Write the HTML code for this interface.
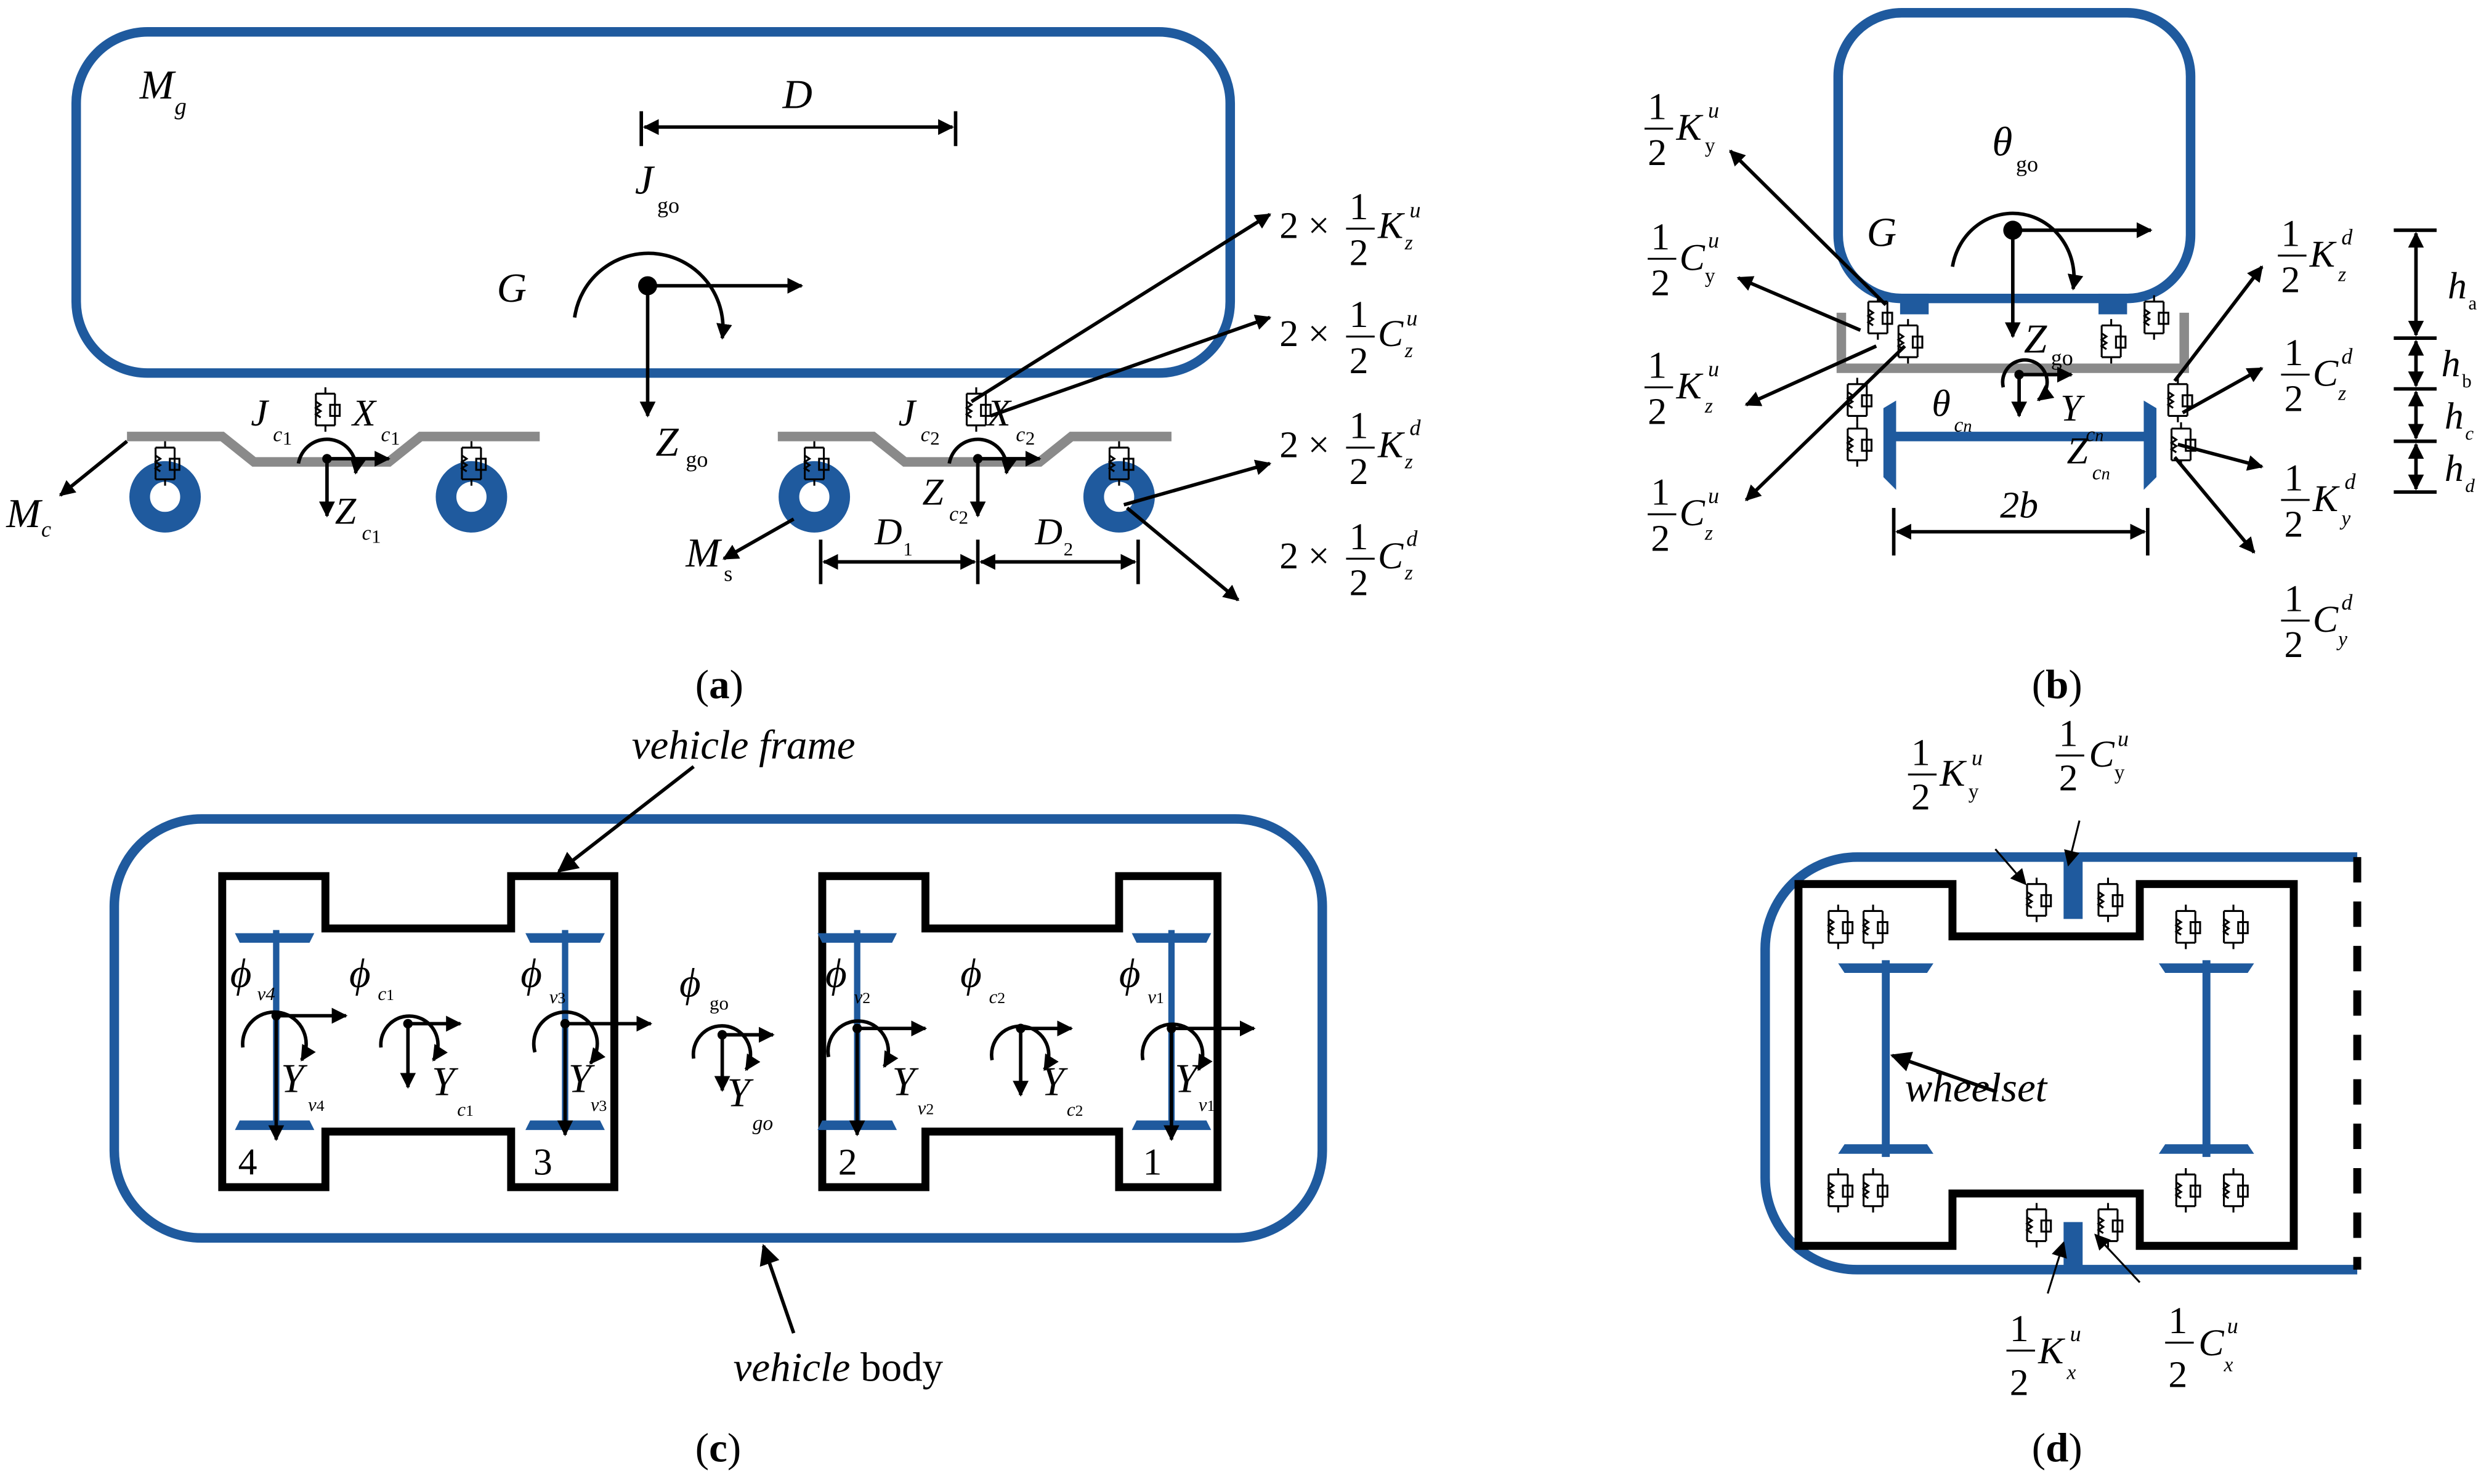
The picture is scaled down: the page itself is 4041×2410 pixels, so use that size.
<!DOCTYPE html>
<html><head><meta charset="utf-8"><style>
html,body{margin:0;padding:0;background:#fff}
svg{display:block}
text{font-family:"Liberation Serif",serif;fill:#000}
.i{font-style:italic}
.b{fill:none;stroke:#1f5a9e;stroke-width:6}
.k{fill:none;stroke:#000;stroke-width:2.2}
.kf{fill:none;stroke:#000;stroke-width:5}
.g{fill:none;stroke:#8a8a8a;stroke-width:6}
.s{fill:none;stroke:#000;stroke-width:1.2}
</style></head><body>
<svg width="4041" height="2410" viewBox="0 0 1568 935" xmlns="http://www.w3.org/2000/svg">
<defs>
<marker id="a" viewBox="0 0 10 10" refX="9" refY="5" markerWidth="10" markerHeight="10" markerUnits="userSpaceOnUse" orient="auto"><path d="M0,0 L10,5 L0,10 z" fill="#000"/></marker>
<marker id="a2" viewBox="0 0 10 10" refX="9" refY="5" markerWidth="13" markerHeight="13" markerUnits="userSpaceOnUse" orient="auto"><path d="M0,0 L10,5 L0,10 z" fill="#000"/></marker>
<marker id="ar" viewBox="0 0 10 10" refX="1" refY="5" markerWidth="10" markerHeight="10" markerUnits="userSpaceOnUse" orient="auto"><path d="M10,0 L0,5 L10,10 z" fill="#000"/></marker>
<g id="sd"><path class="s" d="M-6,-10 h12 M0,-14 v4 M-6,-10 v20 M6,-10 v20 M-6,10 h12 M0,10 v4"/><path class="s" d="M-6,-5 l3,2 l-3,2 l3,2 l-3,2 l3,2"/><rect class="s" x="3" y="-3" width="6" height="7" fill="#fff"/></g>
</defs>

<!-- ===== (a) ===== -->
<rect class="b" x="48" y="20" width="727" height="215" rx="45"/>
<text class="i" x="88" y="62" font-size="26">M</text><text class="i" x="110" y="72" font-size="15">g</text>
<text class="i" x="493" y="68" font-size="26">D</text>
<line class="k" x1="404" y1="70" x2="404" y2="92"/><line class="k" x1="602" y1="70" x2="602" y2="92"/>
<line class="k" x1="406" y1="80" x2="600" y2="80" marker-end="url(#a)" marker-start="url(#ar)"/>
<text class="i" x="400" y="122" font-size="26">J</text><text x="414" y="134" font-size="14">go</text>
<text class="i" x="313" y="190" font-size="26">G</text>
<path class="k" d="M362,200 A46,46 0 1 1 455,213" marker-end="url(#a)"/>
<circle cx="408" cy="180" r="6"/>
<line class="k" x1="408" y1="180" x2="505" y2="180" marker-end="url(#a)"/>
<line class="k" x1="408" y1="180" x2="408" y2="262" marker-end="url(#a)"/>
<text class="i" x="413" y="287" font-size="26">Z</text><text x="432" y="294" font-size="14">go</text>
<!-- left bogie -->
<polyline class="g" points="80,275 140,275 160,291 245,291 265,275 340,275"/>
<circle cx="104" cy="313" r="16" fill="none" stroke="#1f5a9e" stroke-width="13"/>
<circle cx="297" cy="313" r="16" fill="none" stroke="#1f5a9e" stroke-width="13"/>
<use href="#sd" x="104" y="292"/><use href="#sd" x="297" y="292"/>
<use href="#sd" x="205" y="258"/>
<path class="k" d="M188,292 A17,17 0 1 1 224,298" marker-end="url(#a)"/>
<circle cx="206" cy="289" r="3"/>
<line class="k" x1="206" y1="289" x2="245" y2="289" marker-end="url(#a)"/>
<line class="k" x1="206" y1="289" x2="206" y2="325" marker-end="url(#a)"/>
<text class="i" x="158" y="268" font-size="24">J</text><text class="i" x="172" y="278" font-size="13">c</text><text x="178" y="280" font-size="12">1</text>
<text class="i" x="222" y="268" font-size="24">X</text><text class="i" x="240" y="278" font-size="13">c</text><text x="246" y="280" font-size="12">1</text>
<text class="i" x="211" y="330" font-size="24">Z</text><text class="i" x="228" y="340" font-size="13">c</text><text x="234" y="342" font-size="12">1</text>
<line class="k" x1="80" y1="278" x2="38" y2="312" marker-end="url(#a)"/>
<text class="i" x="4" y="332" font-size="26">M</text><text class="i" x="26" y="338" font-size="14">c</text>
<!-- right bogie -->
<polyline class="g" points="490,275 550,275 570,291 655,291 675,275 738,275"/>
<circle cx="513" cy="313" r="16" fill="none" stroke="#1f5a9e" stroke-width="13"/>
<circle cx="705" cy="313" r="16" fill="none" stroke="#1f5a9e" stroke-width="13"/>
<use href="#sd" x="513" y="292"/><use href="#sd" x="705" y="292"/>
<use href="#sd" x="615" y="258"/>
<path class="k" d="M598,292 A17,17 0 1 1 634,298" marker-end="url(#a)"/>
<circle cx="616" cy="289" r="3"/>
<line class="k" x1="616" y1="289" x2="655" y2="289" marker-end="url(#a)"/>
<line class="k" x1="616" y1="289" x2="616" y2="325" marker-end="url(#a)"/>
<text class="i" x="566" y="268" font-size="24">J</text><text class="i" x="580" y="278" font-size="13">c</text><text x="586" y="280" font-size="12">2</text>
<text class="i" x="622" y="268" font-size="24">X</text><text class="i" x="640" y="278" font-size="13">c</text><text x="646" y="280" font-size="12">2</text>
<text class="i" x="581" y="318" font-size="24">Z</text><text class="i" x="598" y="328" font-size="13">c</text><text x="604" y="330" font-size="12">2</text>
<line class="k" x1="500" y1="327" x2="456" y2="352" marker-end="url(#a)"/>
<text class="i" x="432" y="357" font-size="26">M</text><text x="456" y="366" font-size="14">s</text>
<text class="i" x="551" y="343" font-size="24">D</text><text x="569" y="350" font-size="12">1</text>
<text class="i" x="652" y="343" font-size="24">D</text><text x="670" y="350" font-size="12">2</text>
<line class="k" x1="517" y1="340" x2="517" y2="368"/><line class="k" x1="616" y1="340" x2="616" y2="368"/><line class="k" x1="717" y1="340" x2="717" y2="368"/>
<line class="k" x1="519" y1="354" x2="614" y2="354" marker-end="url(#a)" marker-start="url(#ar)"/>
<line class="k" x1="618" y1="354" x2="715" y2="354" marker-end="url(#a)" marker-start="url(#ar)"/>
<line class="k" x1="612" y1="253" x2="800" y2="135" marker-end="url(#a)"/>
<line class="k" x1="624" y1="262" x2="800" y2="200" marker-end="url(#a)"/>
<line class="k" x1="708" y1="318" x2="800" y2="292" marker-end="url(#a)"/>
<line class="k" x1="710" y1="320" x2="780" y2="378" marker-end="url(#a)"/>
<g font-size="24">
<text x="806" y="150">2 ×</text><text x="850" y="138">1</text><line class="s" x1="848" y1="144" x2="866" y2="144"/><text x="850" y="167">2</text><text class="i" x="868" y="150">K</text><text class="i" x="888" y="137" font-size="14">u</text><text class="i" x="885" y="157" font-size="13">z</text>
<text x="806" y="218">2 ×</text><text x="850" y="206">1</text><line class="s" x1="848" y1="212" x2="866" y2="212"/><text x="850" y="235">2</text><text class="i" x="868" y="218">C</text><text class="i" x="886" y="205" font-size="14">u</text><text class="i" x="885" y="225" font-size="13">z</text>
<text x="806" y="288">2 ×</text><text x="850" y="276">1</text><line class="s" x1="848" y1="282" x2="866" y2="282"/><text x="850" y="305">2</text><text class="i" x="868" y="288">K</text><text class="i" x="888" y="274" font-size="14">d</text><text class="i" x="885" y="295" font-size="13">z</text>
<text x="806" y="358">2 ×</text><text x="850" y="346">1</text><line class="s" x1="848" y1="352" x2="866" y2="352"/><text x="850" y="375">2</text><text class="i" x="868" y="358">C</text><text class="i" x="886" y="344" font-size="14">d</text><text class="i" x="885" y="365" font-size="13">z</text>
</g>
<text x="438" y="440" font-size="26">(<tspan font-weight="bold">a</tspan>)</text>

<!-- ===== (b) ===== -->
<rect class="b" x="1158" y="8" width="222" height="180" rx="40"/>
<path class="g" d="M1160,197 V232 H1376 V197"/>
<rect x="1197" y="185" width="18" height="13" fill="#1f5a9e"/><rect x="1322" y="185" width="18" height="13" fill="#1f5a9e"/>
<use href="#sd" x="1183" y="200"/><use href="#sd" x="1202" y="215"/><use href="#sd" x="1330" y="215"/><use href="#sd" x="1357" y="200"/>
<use href="#sd" x="1170" y="252"/><use href="#sd" x="1170" y="280"/><use href="#sd" x="1372" y="252"/><use href="#sd" x="1374" y="280"/>
<text class="i" x="1255" y="98" font-size="26">θ</text><text x="1270" y="108" font-size="14">go</text>
<text class="i" x="1176" y="155" font-size="26">G</text>
<path class="k" d="M1230,168 A38,40 0 1 1 1306,182" marker-end="url(#a)"/>
<circle cx="1268" cy="145" r="6"/>
<line class="k" x1="1268" y1="145" x2="1355" y2="145" marker-end="url(#a)"/>
<line class="k" x1="1268" y1="145" x2="1268" y2="212" marker-end="url(#a)"/>
<text class="i" x="1275" y="222" font-size="26">Z</text><text x="1292" y="230" font-size="14">go</text>
<path class="k" d="M1262,244 A14,14 0 1 1 1284,252" marker-end="url(#a)"/>
<circle cx="1272" cy="236" r="3"/>
<line class="k" x1="1272" y1="236" x2="1305" y2="236" marker-end="url(#a)"/>
<line class="k" x1="1272" y1="236" x2="1272" y2="262" marker-end="url(#a)"/>
<line x1="1188" y1="275" x2="1355" y2="275" stroke="#1f5a9e" stroke-width="6"/>
<path d="M1188,258 L1193,255 L1193,305 L1188,300z M1357,258 L1352,255 L1352,305 L1357,300z" fill="#1f5a9e" stroke="#1f5a9e" stroke-width="3"/>
<text class="i" x="1217" y="262" font-size="24">θ</text><text class="i" x="1231" y="272" font-size="13">c<tspan font-size="11">n</tspan></text>
<text class="i" x="1298" y="265" font-size="24">Y</text><text class="i" x="1314" y="278" font-size="13">c<tspan font-size="11">n</tspan></text>
<text class="i" x="1302" y="292" font-size="24">Z</text><text class="i" x="1318" y="302" font-size="13">c<tspan font-size="11">n</tspan></text>
<text class="i" x="1260" y="326" font-size="24">2b</text>
<line class="k" x1="1193" y1="320" x2="1193" y2="350"/><line class="k" x1="1353" y1="320" x2="1353" y2="350"/>
<line class="k" x1="1195" y1="335" x2="1351" y2="335" marker-end="url(#a)" marker-start="url(#ar)"/>
<line class="k" x1="1188" y1="192" x2="1090" y2="95" marker-end="url(#a)"/>
<line class="k" x1="1172" y1="208" x2="1095" y2="175" marker-end="url(#a)"/>
<line class="k" x1="1182" y1="218" x2="1100" y2="255" marker-end="url(#a)"/>
<line class="k" x1="1200" y1="218" x2="1100" y2="315" marker-end="url(#a)"/>
<line class="k" x1="1370" y1="240" x2="1425" y2="168" marker-end="url(#a)"/>
<line class="k" x1="1375" y1="260" x2="1425" y2="232" marker-end="url(#a)"/>
<line class="k" x1="1372" y1="280" x2="1425" y2="294" marker-end="url(#a)"/>
<line class="k" x1="1370" y1="288" x2="1420" y2="348" marker-end="url(#a)"/>
<g font-size="24">
<text x="1038" y="75">1</text><line class="s" x1="1036" y1="81" x2="1054" y2="81"/><text x="1038" y="104">2</text><text class="i" x="1056" y="88">K</text><text class="i" x="1076" y="74" font-size="14">u</text><text x="1074" y="96" font-size="13">y</text>
<text x="1040" y="157">1</text><line class="s" x1="1038" y1="163" x2="1056" y2="163"/><text x="1040" y="186">2</text><text class="i" x="1058" y="170">C</text><text class="i" x="1076" y="156" font-size="14">u</text><text x="1074" y="178" font-size="13">y</text>
<text x="1038" y="238">1</text><line class="s" x1="1036" y1="244" x2="1054" y2="244"/><text x="1038" y="267">2</text><text class="i" x="1056" y="251">K</text><text class="i" x="1076" y="237" font-size="14">u</text><text class="i" x="1074" y="260" font-size="13">z</text>
<text x="1040" y="318">1</text><line class="s" x1="1038" y1="324" x2="1056" y2="324"/><text x="1040" y="347">2</text><text class="i" x="1058" y="331">C</text><text class="i" x="1076" y="317" font-size="14">u</text><text class="i" x="1074" y="340" font-size="13">z</text>
<text x="1437" y="155">1</text><line class="s" x1="1435" y1="161" x2="1453" y2="161"/><text x="1437" y="184">2</text><text class="i" x="1455" y="168">K</text><text class="i" x="1475" y="154" font-size="14">d</text><text class="i" x="1473" y="177" font-size="13">z</text>
<text x="1439" y="230">1</text><line class="s" x1="1437" y1="236" x2="1455" y2="236"/><text x="1439" y="259">2</text><text class="i" x="1457" y="243">C</text><text class="i" x="1475" y="229" font-size="14">d</text><text class="i" x="1473" y="252" font-size="13">z</text>
<text x="1439" y="309">1</text><line class="s" x1="1437" y1="315" x2="1455" y2="315"/><text x="1439" y="338">2</text><text class="i" x="1457" y="322">K</text><text class="i" x="1477" y="308" font-size="14">d</text><text class="i" x="1475" y="331" font-size="13">y</text>
<text x="1439" y="385">1</text><line class="s" x1="1437" y1="391" x2="1455" y2="391"/><text x="1439" y="414">2</text><text class="i" x="1457" y="398">C</text><text class="i" x="1475" y="384" font-size="14">d</text><text class="i" x="1473" y="407" font-size="13">y</text>
</g>
<g class="k">
<line x1="1508" y1="145" x2="1535" y2="145"/><line x1="1508" y1="213" x2="1535" y2="213"/><line x1="1508" y1="245" x2="1535" y2="245"/><line x1="1508" y1="278" x2="1535" y2="278"/><line x1="1508" y1="310" x2="1535" y2="310"/>
<line x1="1522" y1="147" x2="1522" y2="211" marker-end="url(#a)" marker-start="url(#ar)"/>
<line x1="1522" y1="215" x2="1522" y2="243" marker-end="url(#a)" marker-start="url(#ar)"/>
<line x1="1522" y1="247" x2="1522" y2="276" marker-end="url(#a)" marker-start="url(#ar)"/>
<line x1="1522" y1="280" x2="1522" y2="308" marker-end="url(#a)" marker-start="url(#ar)"/>
</g>
<g font-size="24" class="i">
<text x="1542" y="188">h</text><text x="1555" y="195" font-size="12" font-style="normal">a</text>
<text x="1538" y="237">h</text><text x="1551" y="244" font-size="12" font-style="normal">b</text>
<text x="1540" y="270">h</text><text x="1553" y="277" font-size="12">c</text>
<text x="1540" y="303">h</text><text x="1553" y="310" font-size="12">d</text>
</g>
<text x="1280" y="440" font-size="26">(<tspan font-weight="bold">b</tspan>)</text>

<!-- ===== (c) ===== -->
<rect class="b" x="72" y="516" width="761" height="264" rx="55"/>
<polygon class="kf" points="140,552 205,552 205,585 322,585 322,552 387,552 387,748 322,748 322,713 205,713 205,748 140,748"/>
<polygon class="kf" points="518,552 583,552 583,585 705,585 705,552 767,552 767,748 705,748 705,713 583,713 583,748 518,748"/>
<g fill="#1f5a9e">
<path d="M148,588 H198 L195,594 H151z M148,712 H198 L195,706 H151z"/>
<path d="M331,588 H381 L378,594 H334z M331,712 H381 L378,706 H334z"/>
<path d="M515,588 H565 L562,594 H518z M515,712 H565 L562,706 H518z"/>
<path d="M713,588 H763 L760,594 H716z M713,712 H763 L760,706 H716z"/>
</g>
<g stroke="#1f5a9e" stroke-width="4"><line x1="174" y1="586" x2="174" y2="712"/><line x1="356" y1="586" x2="356" y2="712"/><line x1="540" y1="586" x2="540" y2="712"/><line x1="738" y1="586" x2="738" y2="712"/></g>
<g class="k">
<path d="M153,660 A20,20 0 1 1 190,668" marker-end="url(#a)"/><line x1="174" y1="640" x2="218" y2="640" marker-end="url(#a)"/><line x1="174" y1="640" x2="174" y2="718" marker-end="url(#a)"/>
<path d="M240,660 A18,18 0 1 1 273,668" marker-end="url(#a)"/><line x1="257" y1="645" x2="290" y2="645" marker-end="url(#a)"/><line x1="257" y1="645" x2="257" y2="685" marker-end="url(#a)"/>
<path d="M337,663 A20,20 0 1 1 372,670" marker-end="url(#a)"/><line x1="356" y1="645" x2="410" y2="645" marker-end="url(#a)"/><line x1="356" y1="645" x2="356" y2="715" marker-end="url(#a)"/>
<path d="M437,667 A18,18 0 1 1 470,674" marker-end="url(#a)"/><line x1="455" y1="652" x2="487" y2="652" marker-end="url(#a)"/><line x1="455" y1="652" x2="455" y2="687" marker-end="url(#a)"/>
<path d="M522,666 A19,19 0 1 1 557,672" marker-end="url(#a)"/><line x1="540" y1="648" x2="583" y2="648" marker-end="url(#a)"/><line x1="540" y1="648" x2="540" y2="715" marker-end="url(#a)"/>
<path d="M625,668 A18,18 0 1 1 658,674" marker-end="url(#a)"/><line x1="643" y1="648" x2="675" y2="648" marker-end="url(#a)"/><line x1="643" y1="648" x2="643" y2="690" marker-end="url(#a)"/>
<path d="M720,668 A19,19 0 1 1 755,674" marker-end="url(#a)"/><line x1="738" y1="648" x2="790" y2="648" marker-end="url(#a)"/><line x1="738" y1="648" x2="738" y2="718" marker-end="url(#a)"/>
</g>
<g fill="#000"><circle cx="174" cy="640" r="3"/><circle cx="257" cy="645" r="3"/><circle cx="356" cy="645" r="3"/><circle cx="455" cy="652" r="3"/><circle cx="540" cy="648" r="3"/><circle cx="643" cy="648" r="3"/><circle cx="738" cy="648" r="3"/></g>
<g font-size="26" class="i">
<text x="145" y="622">ϕ</text><text x="162" y="630" font-size="12">v4</text>
<text x="220" y="622">ϕ</text><text x="238" y="630" font-size="12">c<tspan font-style="normal" font-size="10">1</tspan></text>
<text x="328" y="622">ϕ</text><text x="346" y="632" font-size="12">v<tspan font-style="normal" font-size="10">3</tspan></text>
<text x="428" y="628">ϕ</text><text x="447" y="636" font-size="12" font-style="normal">go</text>
<text x="520" y="622">ϕ</text><text x="538" y="632" font-size="12">v<tspan font-style="normal" font-size="10">2</tspan></text>
<text x="605" y="622">ϕ</text><text x="623" y="632" font-size="12">c<tspan font-style="normal" font-size="10">2</tspan></text>
<text x="705" y="622">ϕ</text><text x="723" y="632" font-size="12">v<tspan font-style="normal" font-size="10">1</tspan></text>
<text x="177" y="688">Y</text><text x="194" y="700" font-size="12">v<tspan font-style="normal" font-size="10">4</tspan></text>
<text x="272" y="690">Y</text><text x="288" y="703" font-size="12">c<tspan font-style="normal" font-size="10">1</tspan></text>
<text x="358" y="688">Y</text><text x="372" y="700" font-size="12">v<tspan font-style="normal" font-size="10">3</tspan></text>
<text x="458" y="697">Y</text><text x="474" y="712" font-size="13">go</text>
<text x="562" y="690">Y</text><text x="578" y="702" font-size="12">v<tspan font-style="normal" font-size="10">2</tspan></text>
<text x="656" y="690">Y</text><text x="672" y="703" font-size="12">c<tspan font-style="normal" font-size="10">2</tspan></text>
<text x="740" y="688">Y</text><text x="755" y="700" font-size="12">v<tspan font-style="normal" font-size="10">1</tspan></text>
</g>
<g font-size="24"><text x="150" y="740">4</text><text x="336" y="740">3</text><text x="528" y="740">2</text><text x="720" y="740">1</text></g>
<text class="i" x="398" y="478" font-size="26">vehicle frame</text>
<line class="k" x1="437" y1="483" x2="352" y2="549" marker-end="url(#a2)"/>
<text x="462" y="870" font-size="26"><tspan font-style="italic">vehicle</tspan> body</text>
<line class="k" x1="500" y1="840" x2="481" y2="785" marker-end="url(#a2)"/>
<text x="438" y="921" font-size="26">(<tspan font-weight="bold">c</tspan>)</text>

<!-- ===== (d) ===== -->
<path class="b" d="M1485,540 H1170 A58,58 0 0 0 1112,598 V742 A58,58 0 0 0 1170,800 H1485"/>
<line x1="1485" y1="540" x2="1485" y2="800" stroke="#000" stroke-width="5" stroke-dasharray="16,12"/>
<polygon class="kf" points="1133,557 1230,557 1230,590 1348,590 1348,557 1445,557 1445,785 1348,785 1348,752 1230,752 1230,785 1133,785"/>
<rect x="1300" y="541" width="12" height="38" fill="#1f5a9e"/><rect x="1300" y="770" width="12" height="32" fill="#1f5a9e"/>
<g fill="#1f5a9e">
<path d="M1158,607 H1218 L1214,613 H1162z M1158,727 H1218 L1214,721 H1162z"/>
<path d="M1360,607 H1420 L1416,613 H1364z M1360,727 H1420 L1416,721 H1364z"/>
</g>
<g stroke="#1f5a9e" stroke-width="5"><line x1="1188" y1="605" x2="1188" y2="729"/><line x1="1390" y1="605" x2="1390" y2="729"/></g>
<use href="#sd" x="1283" y="567"/><use href="#sd" x="1328" y="567"/><use href="#sd" x="1283" y="772"/><use href="#sd" x="1328" y="772"/>
<use href="#sd" x="1158" y="584"/><use href="#sd" x="1180" y="584"/><use href="#sd" x="1377" y="584"/><use href="#sd" x="1407" y="584"/>
<use href="#sd" x="1158" y="750"/><use href="#sd" x="1180" y="750"/><use href="#sd" x="1377" y="750"/><use href="#sd" x="1407" y="750"/>
<line class="k" x1="1258" y1="688" x2="1192" y2="665" marker-end="url(#a2)"/>
<text class="i" x="1200" y="694" font-size="26">wheelset</text>
<line class="s" x1="1257" y1="535" x2="1276" y2="557" marker-end="url(#a)"/>
<line class="s" x1="1310" y1="517" x2="1303" y2="545" marker-end="url(#a)"/>
<line class="s" x1="1290" y1="815" x2="1300" y2="783" marker-end="url(#a)"/>
<line class="s" x1="1348" y1="808" x2="1320" y2="778" marker-end="url(#a)"/>
<g font-size="24">
<text x="1204" y="482">1</text><line class="s" x1="1202" y1="488" x2="1220" y2="488"/><text x="1204" y="510">2</text><text class="i" x="1222" y="495">K</text><text class="i" x="1242" y="482" font-size="14">u</text><text x="1240" y="503" font-size="13">y</text>
<text x="1297" y="470">1</text><line class="s" x1="1295" y1="476" x2="1313" y2="476"/><text x="1297" y="498">2</text><text class="i" x="1316" y="483">C</text><text class="i" x="1334" y="470" font-size="14">u</text><text x="1332" y="491" font-size="13">y</text>
<text x="1266" y="845">1</text><line class="s" x1="1264" y1="851" x2="1282" y2="851"/><text x="1266" y="879">2</text><text class="i" x="1284" y="859">K</text><text class="i" x="1304" y="845" font-size="14">u</text><text class="i" x="1302" y="869" font-size="13">x</text>
<text x="1366" y="840">1</text><line class="s" x1="1364" y1="846" x2="1382" y2="846"/><text x="1366" y="874">2</text><text class="i" x="1385" y="854">C</text><text class="i" x="1403" y="840" font-size="14">u</text><text class="i" x="1401" y="864" font-size="13">x</text>
</g>
<text x="1280" y="921" font-size="26">(<tspan font-weight="bold">d</tspan>)</text>
</svg>
</body></html>
